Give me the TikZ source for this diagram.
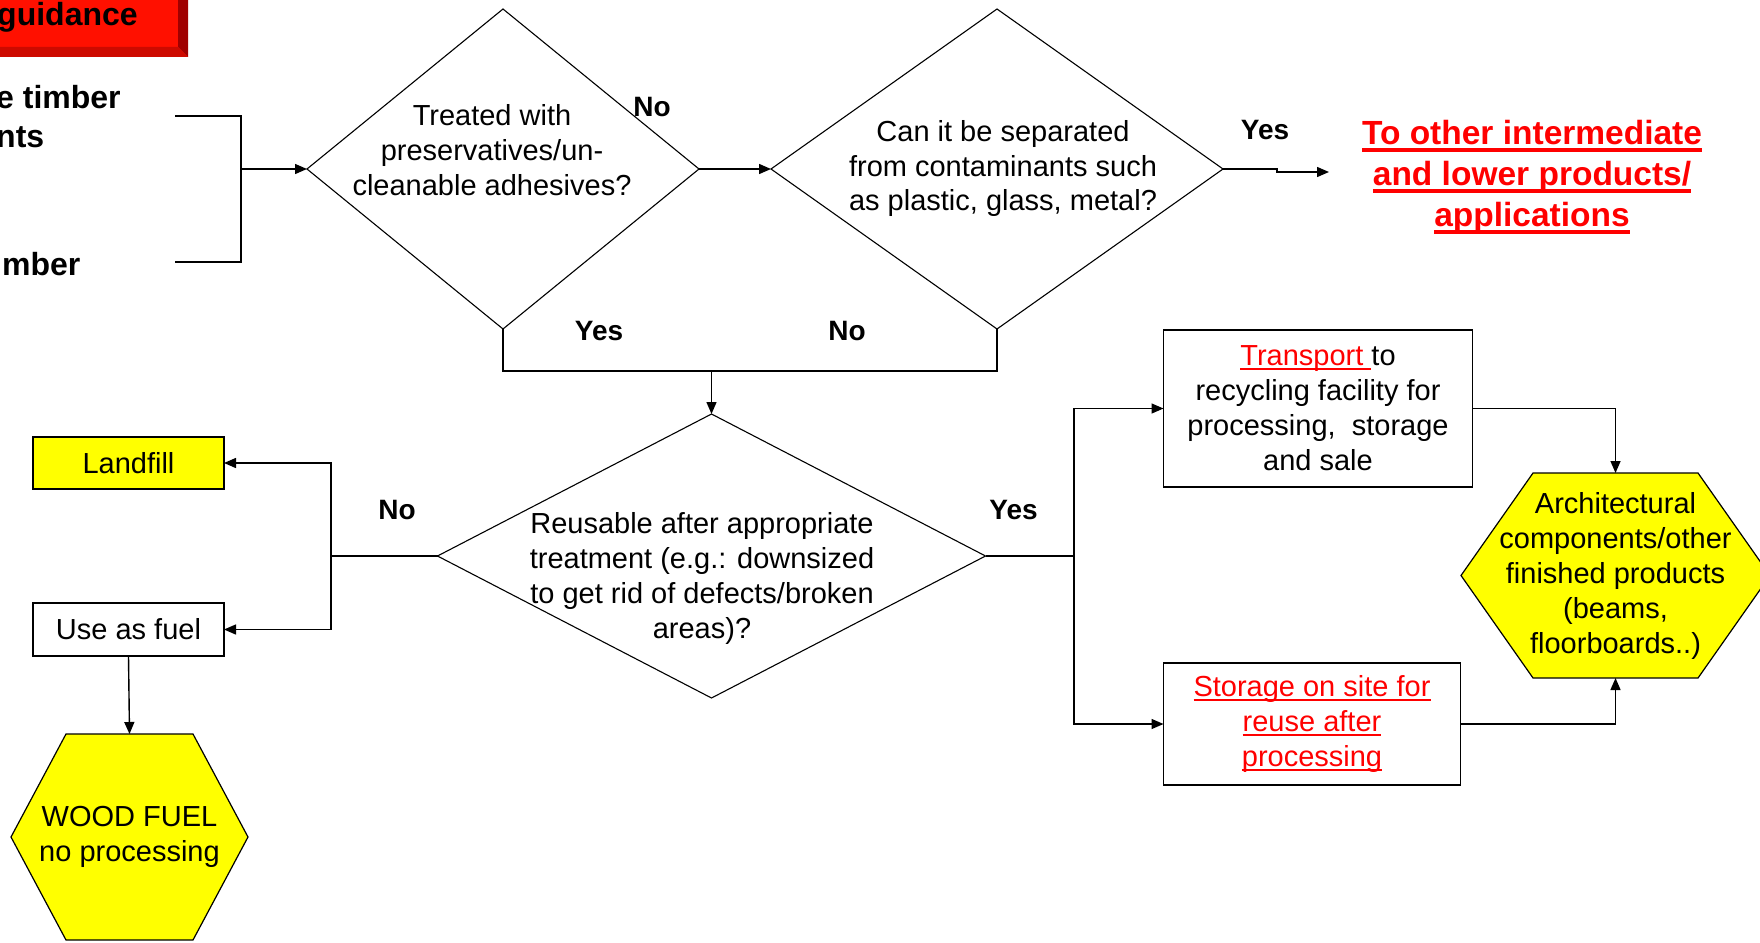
\documentclass[tikz,border=0pt]{standalone}
\usepackage{fontspec}
\setmainfont{Liberation Sans}
\usepackage{xcolor}
\usepackage{tikz}
\usetikzlibrary{arrows.meta,positioning,calc,shapes.geometric,backgrounds}

\definecolor{boxyellow}{RGB}{255,255,0}
\definecolor{linkred}{RGB}{255,0,0}
\definecolor{bannerred}{RGB}{255,16,0}
\definecolor{bannerside}{RGB}{160,0,0}
\definecolor{bannerfoot}{RGB}{205,10,0}

% underlines for the red link-style text
\newlength{\uldepth}
\setlength{\uldepth}{4.5pt}
\newcommand{\ulthick}{2.2pt}
\newcommand{\redline}[1]{{\color{linkred}\setbox0\hbox{#1}%
  \rlap{\rule[-\uldepth]{\wd0}{\ulthick}}\box0}}

\tikzset{
  txt/.style={font=\fontsize{29}{35}\selectfont,align=center,inner sep=0pt},
  head/.style={font=\bfseries\fontsize{32}{39}\selectfont,align=left,inner sep=0pt},
  bighead/.style={font=\bfseries\fontsize{33.5}{41}\selectfont\setlength{\uldepth}{7.5pt}\def\ulthick{3.8pt},align=center,inner sep=0pt},
  yn/.style={font=\bfseries\fontsize{28}{34}\selectfont,inner sep=0pt},
  quest/.style={diamond,draw,line width=1.1pt,inner sep=0pt,outer sep=0pt},
  stepbox/.style={rectangle,draw,line width=1.4pt,inner sep=0pt,outer sep=0pt,txt},
  endbox/.style={stepbox,fill=boxyellow},
  hexv/.style={rectangle,inner sep=0pt,outer sep=0pt,txt},
  hexfill/.style={draw,line width=1.2pt,fill=boxyellow},
  wire/.style={line width=1.4pt},
  flow/.style={wire,-{Triangle[length=12pt,width=10pt]}}
}

\begin{document}
\begin{tikzpicture}[x=1pt,y=-1pt]
  \useasboundingbox (0,0) rectangle (1760,942);
  \clip (0,0) rectangle (1760,942);

  % bevelled banner, top left
  \fill[bannerred] (-10,-10) rectangle (188,57);
  \fill[bannerside] (178,-10) -- (188,-10) -- (188,57) -- (178,47) -- cycle;
  \fill[bannerfoot] (-10,47) -- (178,47) -- (188,57) -- (-10,57) -- cycle;
  \node[head,anchor=base west] (banner) at (-3,26) {guidance};

  % incoming timber
  \node[head,anchor=north west] (srcA) at (-4,85) {e timber\\nts};
  \node[head,anchor=base west] (srcB) at (2,275) {mber};
  \coordinate (brtop) at (175,116);
  \coordinate (brbot) at (175,262);
  \coordinate (brmid) at (241,169);

  % decisions
  \node[quest,minimum width=392pt,minimum height=320pt] (treat) at (503,169) {};
  \node[txt] (treat-t) at (492,150) {Treated with\\preservatives/un-\\cleanable adhesives?};
  \node[quest,minimum width=452pt,minimum height=320pt] (sep) at (997,169) {};
  \node[txt] (sep-t) at (1003,168.5) {Can it be separated\\from contaminants such\\as plastic, glass, metal?};
  \node[quest,minimum width=548pt,minimum height=284pt] (reuse) at (711.5,556) {};
  \node[txt] (reuse-t) at (702,578.5) {Reusable after appropriate\\treatment (e.g.: downsized\\to get rid of defects/broken\\areas)?};

  % outcomes
  \node[endbox,minimum width=191pt,minimum height=52pt] (landfill) at (128.5,463) {Landfill};
  \node[stepbox,minimum width=191pt,minimum height=53pt] (fuel) at (128.5,629.5) {Use as fuel};
  \node[hexv,minimum width=237pt,minimum height=206pt] (woodfuel) at (129.5,837) {WOOD FUEL\\no processing};
  \node[stepbox,minimum width=309pt,minimum height=157pt] (transport) at (1318,408.5)
    {\redline{Transport }to\\recycling facility for\\processing,\ \ storage\\and sale};
  \node[stepbox,minimum width=297pt,minimum height=122pt] (storage) at (1312,724)
    {\redline{Storage on site for}\\\redline{reuse after}\\\redline{processing}};
  \node[hexv,minimum width=309pt,minimum height=205pt] (arch) at (1615.5,575.5)
    {Architectural\\components/other\\finished products\\(beams,\\floorboards..)};
  \node[bighead] (other) at (1532,177)
    {\redline{To other intermediate}\\\redline{and lower products/}\\\redline{applications}};

  % hexagon outlines behind their text
  \begin{scope}[on background layer]
    \foreach \h/\c in {woodfuel/55,arch/72}
      \draw[hexfill] (\h.west) -- ($(\h.north west)+(\c,0)$) -- ($(\h.north east)+(-\c,0)$)
        -- (\h.east) -- ($(\h.south east)+(-\c,0)$) -- ($(\h.south west)+(\c,0)$) -- cycle;
  \end{scope}

  % connectors
  \draw[wire] (brtop) -| (brmid) |- (brbot);
  \draw[flow] (brmid) -- (treat.west);
  \draw[flow] (treat.east) -- (sep.west);
  \coordinate (toother) at (1329,172);
  \draw[flow] (sep.east) -- ++(54,0) -- ++(0,3) -- (toother);
  \coordinate (merge) at (711.5,371);
  \draw[wire] (treat.south) |- (merge) -| (sep.south);
  \draw[flow] (merge) -- (reuse.north);
  \coordinate (nofork) at (331,556);
  \coordinate (yesfork) at (1074,556);
  \draw[wire] (reuse.west) -- (nofork);
  \draw[flow] (nofork) |- (landfill.east);
  \draw[flow] (nofork) |- (fuel.east);
  \draw[wire] (reuse.east) -- (yesfork);
  \draw[flow] (yesfork) |- (transport.west);
  \draw[flow] (yesfork) |- (storage.west);
  \draw[flow] (fuel.south) -- (woodfuel.north);
  \draw[flow] (transport.east) -| (arch.north);
  \draw[flow] (storage.east) -| (arch.south);

  % branch labels
  \node[yn] (no1) at (652,107) {No};
  \node[yn] (yes1) at (1265,130) {Yes};
  \node[yn] (yes2) at (599,331) {Yes};
  \node[yn] (no2) at (847,331) {No};
  \node[yn] (no3) at (397,510) {No};
  \node[yn] (yes3) at (1013.5,510) {Yes};
\end{tikzpicture}
\end{document}
